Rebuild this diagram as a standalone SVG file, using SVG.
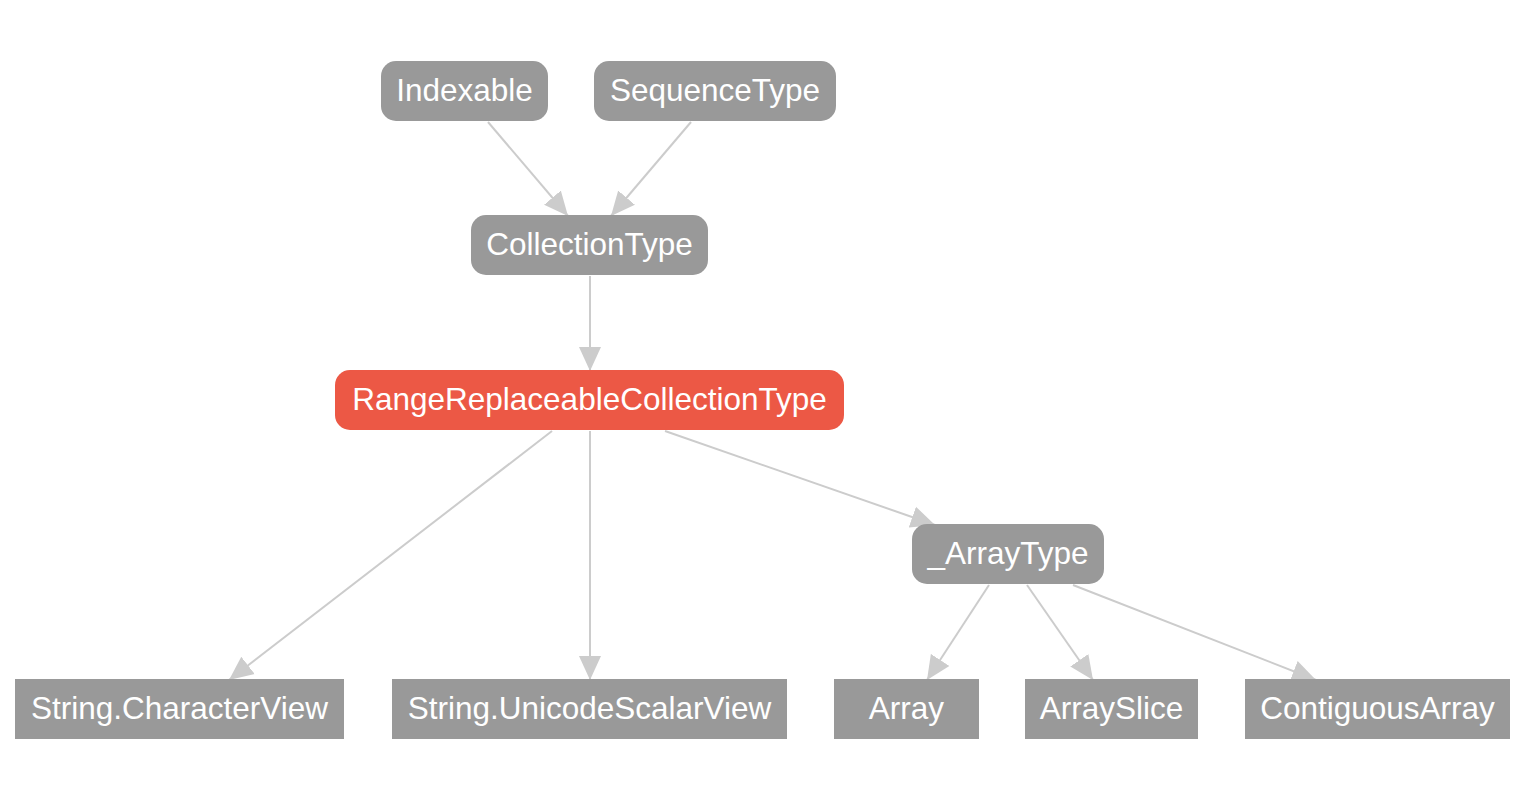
<svg xmlns="http://www.w3.org/2000/svg" width="1528" height="794" viewBox="0 0 1528 794">
<style>
.n rect{fill:#999999}
.n.hl rect{fill:#ec5845}
.n text{fill:#ffffff;font-family:"Liberation Sans",Arial,sans-serif;font-size:31.5px;text-anchor:middle;dominant-baseline:central}
.e line{stroke:#cccccc;stroke-width:2;fill:none}
</style>
<defs>
<marker id="ah" markerUnits="userSpaceOnUse" markerWidth="26" markerHeight="24" viewBox="0 0 26 24" refX="24" refY="12" orient="auto">
<path d="M0,1 L24,12 L0,23 Z" fill="#cccccc"/>
</marker>
</defs>
<rect width="1528" height="794" fill="#ffffff"/>
<g id="connectors" class="e">
<line x1="488" y1="122" x2="568" y2="216" marker-end="url(#ah)"/>
<line x1="691" y1="122" x2="611" y2="216" marker-end="url(#ah)"/>
<line x1="590" y1="276" x2="590" y2="371" marker-end="url(#ah)"/>
<line x1="552" y1="431" x2="229" y2="680" marker-end="url(#ah)"/>
<line x1="590" y1="431" x2="590" y2="680" marker-end="url(#ah)"/>
<line x1="665" y1="431" x2="935" y2="525" marker-end="url(#ah)"/>
<line x1="989" y1="585" x2="927" y2="680" marker-end="url(#ah)"/>
<line x1="1027" y1="585" x2="1093" y2="680" marker-end="url(#ah)"/>
<line x1="1073" y1="585" x2="1316" y2="680" marker-end="url(#ah)"/>
</g>
<g id="n-indexable" class="n"><rect x="381" y="61" width="167" height="60" rx="15"/><text x="464.5" y="90">Indexable</text></g>
<g id="n-sequencetype" class="n"><rect x="594" y="61" width="242" height="60" rx="15"/><text x="715" y="90">SequenceType</text></g>
<g id="n-collectiontype" class="n"><rect x="471" y="215" width="237" height="60" rx="15"/><text x="589.5" y="244">CollectionType</text></g>
<g id="n-rangereplaceable" class="n hl"><rect x="335" y="370" width="509" height="60" rx="15"/><text x="589.5" y="399">RangeReplaceableCollectionType</text></g>
<g id="n-arraytype" class="n"><rect x="912" y="524" width="192" height="60" rx="15"/><text x="1008" y="553">_ArrayType</text></g>
<g id="n-characterview" class="n"><rect x="15" y="679" width="329" height="60"/><text x="179.5" y="708">String.CharacterView</text></g>
<g id="n-unicodescalarview" class="n"><rect x="392" y="679" width="395" height="60"/><text x="589.5" y="708">String.UnicodeScalarView</text></g>
<g id="n-array" class="n"><rect x="834" y="679" width="145" height="60"/><text x="906.5" y="708">Array</text></g>
<g id="n-arrayslice" class="n"><rect x="1025" y="679" width="173" height="60"/><text x="1111.5" y="708">ArraySlice</text></g>
<g id="n-contiguousarray" class="n"><rect x="1245" y="679" width="265" height="60"/><text x="1377.5" y="708">ContiguousArray</text></g>
</svg>
